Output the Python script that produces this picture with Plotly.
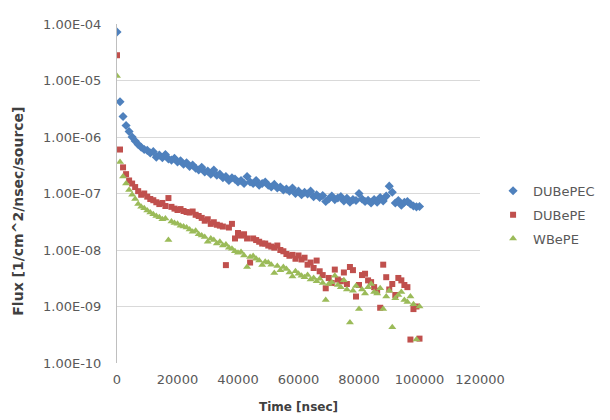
import plotly.graph_objects as go

time_ns = list(range(0, 100001, 1000))

dubepec = [7.2e-5, 4.2e-6, 2.3e-6, 1.6e-6, 1.25e-6, 1.0e-6, 8.5e-7, 7.4e-7, 6.6e-7, 6.0e-7,
           5.8e-7, 5.2e-7, 5.5e-7, 4.4e-7, 4.8e-7, 4.3e-7, 4.9e-7, 4.1e-7, 3.9e-7, 4.2e-7,
           3.6e-7, 3.8e-7, 3.3e-7, 3.5e-7, 3.0e-7, 3.2e-7, 2.8e-7, 2.6e-7, 2.9e-7, 2.4e-7,
           2.5e-7, 2.2e-7, 2.6e-7, 2.1e-7, 2.2e-7, 1.9e-7, 2.0e-7, 1.7e-7, 1.9e-7, 1.8e-7,
           1.6e-7, 1.7e-7, 1.5e-7, 2.0e-7, 1.6e-7, 1.5e-7, 1.7e-7, 1.4e-7, 1.5e-7, 1.6e-7,
           1.4e-7, 1.3e-7, 1.45e-7, 1.25e-7, 1.3e-7, 1.15e-7, 1.2e-7, 1.1e-7, 1.25e-7, 1.0e-7,
           1.1e-7, 9.5e-8, 1.05e-7, 9.8e-8, 1.1e-7, 8.8e-8, 9.5e-8, 8.5e-8, 9.2e-8, 7.2e-8,
           8.0e-8, 9.0e-8, 7.8e-8, 8.3e-8, 8.8e-8, 7.4e-8, 8.2e-8, 7.0e-8, 7.8e-8, 7.5e-8,
           1.0e-7, 8.0e-8, 7.2e-8, 7.6e-8, 6.8e-8, 7.8e-8, 7.0e-8, 8.5e-8, 7.4e-8, 9.0e-8,
           1.35e-7, 1.05e-7, 6.8e-8, 7.5e-8, 6.2e-8, 7.0e-8, 7.2e-8, 6.5e-8, 6.0e-8, 5.8e-8,
           5.9e-8]

dubepe = [2.8e-5, 6.0e-7, 2.9e-7, 2.2e-7, 1.7e-7, 1.5e-7, 1.3e-7, 1.1e-7, 9.5e-8, 1.0e-7,
          8.8e-8, 8.0e-8, 7.6e-8, 7.0e-8, 6.5e-8, 6.8e-8, 6.0e-8, 8.3e-8, 5.8e-8, 5.4e-8,
          5.1e-8, 5.3e-8, 4.9e-8, 4.7e-8, 4.6e-8, 4.8e-8, 4.2e-8, 4.0e-8, 3.7e-8, 3.3e-8,
          3.5e-8, 2.9e-8, 3.1e-8, 2.8e-8, 2.7e-8, 2.6e-8, 5.4e-9, 2.5e-8, 2.9e-8, 1.6e-8,
          2.0e-8, 1.8e-8, 1.9e-8, 1.6e-8, 6.0e-9, 1.6e-8, 1.5e-8, 1.4e-8, 1.3e-8, 1.3e-8,
          1.2e-8, 1.15e-8, 1.1e-8, 1.2e-8, 1.0e-8, 9.5e-9, 8.5e-9, 7.9e-9, 8.2e-9, 7.0e-9,
          8.0e-9, 6.8e-9, 7.3e-9, 5.5e-9, 6.0e-9, 4.8e-9, 6.5e-9, 4.2e-9, 3.6e-9, 2.1e-9,
          3.2e-9, 2.6e-9, 4.5e-9, 3.0e-9, 2.8e-9, 4.0e-9, 2.5e-9, 5.0e-9, 4.4e-9, 1.5e-9,
          2.4e-9, 3.6e-9, 3.8e-9, 2.9e-9, 2.7e-9, 2.2e-9, 1.9e-9, 9.5e-10, 5.5e-9, 3.3e-9,
          2.0e-9, 2.5e-9, 1.6e-9, 3.2e-9, 2.9e-9, 2.4e-9, 2.2e-9, 2.6e-10, 9.0e-10, 1.0e-9,
          2.7e-10]

wbepe = [1.2e-5, 3.6e-7, 2.0e-7, 1.5e-7, 1.15e-7, 9.5e-8, 8.0e-8, 6.5e-8, 5.8e-8, 5.5e-8,
         5.0e-8, 4.6e-8, 4.3e-8, 4.0e-8, 3.8e-8, 3.5e-8, 3.6e-8, 1.5e-8, 3.2e-8, 3.0e-8,
         2.9e-8, 2.7e-8, 2.6e-8, 2.5e-8, 2.3e-8, 2.1e-8, 2.2e-8, 1.9e-8, 1.8e-8, 1.7e-8,
         1.4e-8, 1.6e-8, 1.5e-8, 1.3e-8, 1.4e-8, 1.2e-8, 1.25e-8, 1.1e-8, 1.05e-8, 9.5e-9,
         8.9e-9, 9.2e-9, 8.0e-9, 5.0e-9, 7.5e-9, 7.8e-9, 7.0e-9, 6.5e-9, 5.4e-9, 6.2e-9,
         6.0e-9, 5.5e-9, 3.9e-9, 5.2e-9, 4.4e-9, 5.0e-9, 4.6e-9, 4.0e-9, 3.4e-9, 4.2e-9,
         3.8e-9, 3.5e-9, 3.3e-9, 3.6e-9, 3.0e-9, 3.2e-9, 2.8e-9, 3.1e-9, 2.6e-9, 1.3e-9,
         2.5e-9, 2.7e-9, 3.5e-9, 2.4e-9, 2.2e-9, 2.9e-9, 2.0e-9, 5.2e-10, 1.9e-9, 2.3e-9,
         9.0e-10, 2.0e-9, 1.7e-9, 2.2e-9, 2.5e-9, 1.8e-9, 1.7e-9, 2.1e-9, 9.0e-10, 1.5e-9,
         1.9e-9, 4.3e-10, 1.4e-9, 1.6e-9, 1.8e-9, 1.3e-9, 1.2e-9, 1.5e-9, 1.1e-9, 2.6e-10,
         1.0e-9]

series_names = ["DUBePEC", "DUBePE", "WBePE"]
x_tick_vals = [0, 20000, 40000, 60000, 80000, 100000, 120000]
x_tick_text = ["0", "20000", "40000", "60000", "80000", "100000", "120000"]
y_tick_vals = [1e-10, 1e-9, 1e-8, 1e-7, 1e-6, 1e-5, 1e-4]
y_tick_text = ["1.00E-10", "1.00E-09", "1.00E-08", "1.00E-07", "1.00E-06", "1.00E-05", "1.00E-04"]
x_title = "Time [nsec]"
y_title = "Flux [1/cm^2/nsec/source]"

colors = ["#4F81BD", "#C0504D", "#9BBB59"]
symbols = ["diamond", "square", "triangle-up"]
sizes = [7, 6, 7]

fig = go.Figure()
for name, vals, c, s, sz in zip(series_names, [dubepec, dubepe, wbepe], colors, symbols, sizes):
    fig.add_trace(go.Scatter(
        x=time_ns, y=vals, mode="markers", name=name, legendgroup=name,
        marker=dict(color=c, symbol=s, size=sz, line=dict(width=0)),
    ))

font_family = "DejaVu Sans"
text_color = "#595959"
title_color = "#404040"

fig.update_layout(
    width=602, height=412,
    margin=dict(l=109, r=130, t=9, b=51),
    paper_bgcolor="white", plot_bgcolor="white",
    font=dict(family=font_family, size=13, color=text_color),
    showlegend=True,
    legend=dict(
        x=1.036, xanchor="left", y=0.437, yanchor="middle",
        font=dict(size=13, color=text_color),
        traceorder="grouped", tracegroupgap=4,
        itemwidth=30, bgcolor="rgba(0,0,0,0)",
    ),
    xaxis=dict(
        range=[0, 120000], tickvals=x_tick_vals, ticktext=x_tick_text,
        showgrid=False, zeroline=False, showline=False,
        ticks="", ticklabelstandoff=7, tickfont=dict(size=13, color=text_color),
        title=dict(text="<b>" + x_title + "</b>", font=dict(size=12, color=title_color), standoff=16),
    ),
    yaxis=dict(
        type="log", range=[-10, -4], tickvals=y_tick_vals, ticktext=y_tick_text,
        showgrid=True, gridcolor="#D9D9D9", gridwidth=1,
        zeroline=False, showline=True, linecolor="#BFBFBF", linewidth=1,
        ticks="", ticklabelstandoff=12, tickfont=dict(size=13, color=text_color),
    ),
    annotations=[dict(
        text="<b>" + y_title + "</b>", textangle=-90,
        xref="paper", yref="paper", x=-0.273, y=0.449,
        xanchor="center", yanchor="middle", showarrow=False,
        font=dict(size=14, color=title_color),
    )],
)

fig.write_html("out.html")
